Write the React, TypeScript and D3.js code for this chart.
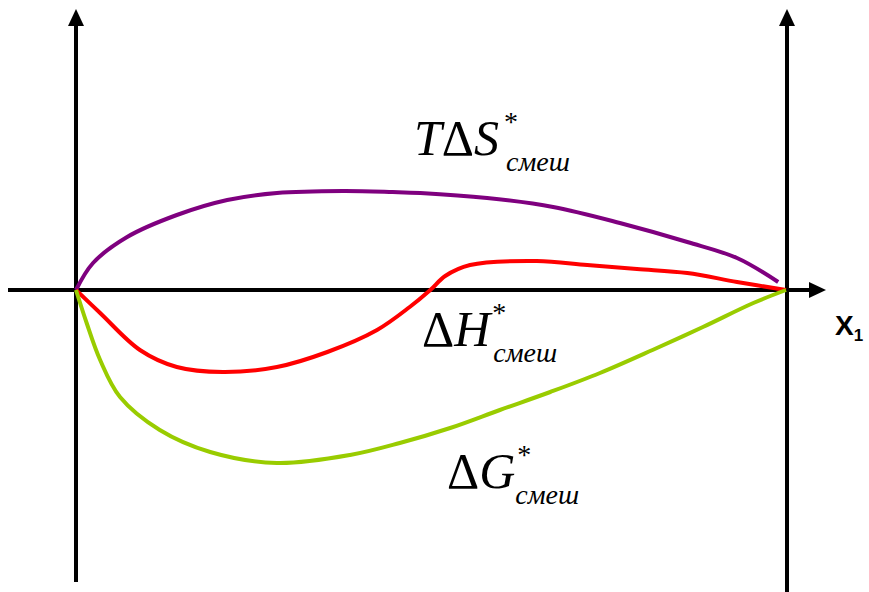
import React from "react";
import * as d3 from "d3";

// x: mole fraction x1 (0..1); y: arbitrary energy units (positive up)
const entropyX = [0, 0.024, 0.072, 0.142, 0.213, 0.283, 0.376, 0.446, 0.485, 0.579, 0.672, 0.766, 0.861, 0.931, 0.989];
const entropyY = [0, 0.27, 0.53, 0.75, 0.9, 0.97, 0.99, 0.98, 0.97, 0.92, 0.83, 0.67, 0.48, 0.32, 0.08];

const enthalpyX = [0, 0.034, 0.09, 0.142, 0.207, 0.283, 0.354, 0.424, 0.47, 0.499, 0.52, 0.555, 0.649, 0.72, 0.79, 0.861, 0.931, 1];
const enthalpyY = [0, -0.23, -0.6, -0.77, -0.82, -0.77, -0.62, -0.4, -0.17, 0, 0.14, 0.25, 0.29, 0.25, 0.21, 0.17, 0.08, 0];

const gibbsX = [0, 0.015, 0.034, 0.062, 0.118, 0.189, 0.283, 0.386, 0.456, 0.527, 0.597, 0.668, 0.738, 0.812, 0.883, 0.954, 1];
const gibbsY = [0, -0.33, -0.7, -1.07, -1.4, -1.62, -1.73, -1.65, -1.53, -1.38, -1.2, -1.02, -0.83, -0.6, -0.37, -0.13, 0];

const seriesNames = ["TΔS", "ΔH", "ΔG"];
const subscriptText = "смеш";
const axisLabel = "X";
const axisLabelSub = "1";

const W = 869;
const H = 592;

export default function App() {
  const x = d3.scaleLinear().domain([0, 1]).range([76, 786]);
  const y = d3.scaleLinear().domain([-3, 2.9]).range([590, 0]);
  const line = d3
    .line<[number, number]>()
    .x((d) => x(d[0]))
    .y((d) => y(d[1]))
    .curve(d3.curveCatmullRom.alpha(0.5));

  const zip = (a: number[], b: number[]) => a.map((v, i) => [v, b[i]] as [number, number]);

  const x0 = x(0);
  const x1 = x(1) + 1;
  const y0 = y(0);

  const serif = "Liberation Serif, Times New Roman, serif";

  const label = (
    main: string,
    lx: number,
    ly: number,
    starDx: number,
    subDx: number,
    key: string
  ) => {
    const parts = main.split("Δ");
    return (
      <text key={key} x={lx} y={ly} style={{ fontFamily: serif }} fontSize={50} fill="#000">
        {parts[0] ? <tspan fontStyle="italic">{parts[0]}</tspan> : null}
        <tspan>Δ</tspan>
        <tspan fontStyle="italic">{parts[1]}</tspan>
        <tspan fontSize={28} dx={starDx} dy={-24}>*</tspan>
        <tspan fontStyle="italic" fontSize={28} dx={subDx} dy={40}>{subscriptText}</tspan>
      </text>
    );
  };

  return (
    <svg
      width={W}
      height={H}
      style={{ position: "absolute", left: 0, top: 0, background: "#fff" }}
    >
      {/* axes */}
      <line x1={8} y1={y0} x2={812} y2={y0} stroke="#000" strokeWidth={4} />
      <path d={`M${826},${y0} L${809},${y0 - 8} L${809},${y0 + 8} Z`} fill="#000" />
      <line x1={x0} y1={582} x2={x0} y2={22} stroke="#000" strokeWidth={4} />
      <path d={`M${x0},${9} L${x0 - 8},${26} L${x0 + 8},${26} Z`} fill="#000" />
      <line x1={x1} y1={592} x2={x1} y2={22} stroke="#000" strokeWidth={4} />
      <path d={`M${x1},${9} L${x1 - 8},${26} L${x1 + 8},${26} Z`} fill="#000" />

      {/* curves */}
      <path d={line(zip(entropyX, entropyY)) || ""} fill="none" stroke="#7F007F" strokeWidth={4} />
      <path d={line(zip(enthalpyX, enthalpyY)) || ""} fill="none" stroke="#FF0000" strokeWidth={4} />
      <path d={line(zip(gibbsX, gibbsY)) || ""} fill="none" stroke="#99CC00" strokeWidth={4} />

      {/* labels */}
      {label(seriesNames[0], 414, 155, 5, -12, "s")}
      {label(seriesNames[1], 422, 346, 2, -13, "h")}
      {label(seriesNames[2], 447, 488, 2, -16, "g")}

      <text x={835} y={335} style={{ fontFamily: "Liberation Sans, Arial, sans-serif" }} fontWeight="bold" fontSize={28} fill="#000">
        {axisLabel}
        <tspan fontSize={17} dy={6}>{axisLabelSub}</tspan>
      </text>
    </svg>
  );
}
